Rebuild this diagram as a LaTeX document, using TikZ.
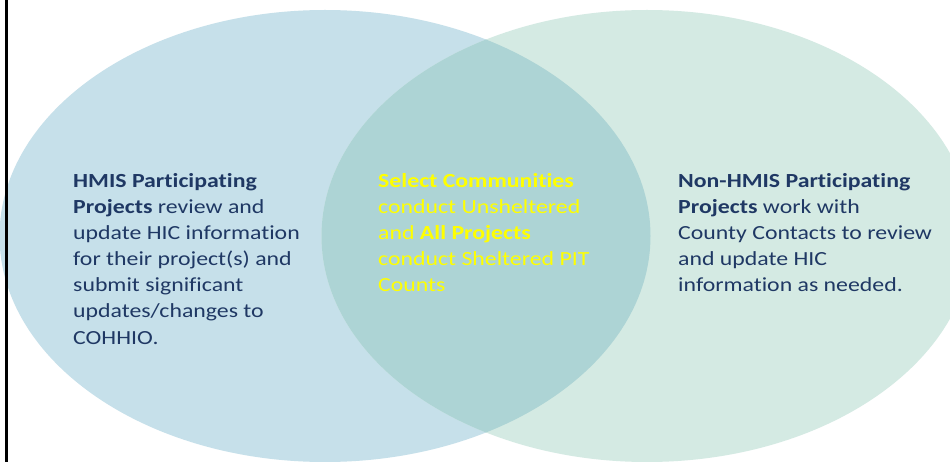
\documentclass[tikz,border=0pt]{standalone}
\usepackage{fontspec}
\setmainfont{Carlito}[FakeStretch=1.19, Ligatures=NoCommon]
\definecolor{lblue}{HTML}{C6E0EA}
\definecolor{lgreen}{HTML}{D4EAE3}
\definecolor{overlapc}{HTML}{ADD4D5}
\definecolor{navy}{HTML}{1F3864}
\definecolor{yel}{HTML}{FFFF00}
\tikzset{
  txt/.style={anchor=base west, inner sep=0pt, font=\fontsize{20}{26.1}\selectfont},
}
\begin{document}
\begin{tikzpicture}[x=1pt,y=-1pt]
\useasboundingbox (0,0) rectangle (950,462);
\begin{scope}
  \clip (0,0) rectangle (950,462);
  \fill[white] (0,0) rectangle (950,462);
  \fill[lblue] (325,236) ellipse [x radius=325.5pt, y radius=226pt];
  \fill[lgreen] (647,236) ellipse [x radius=325.5pt, y radius=226pt];
  \begin{scope}
    \clip (325,236) ellipse [x radius=325.5pt, y radius=226pt];
    \fill[overlapc] (647,236) ellipse [x radius=325.5pt, y radius=226pt];
  \end{scope}
  \fill[black] (5,0) rectangle (8,462);
\end{scope}
\node[txt, text=navy] (left) at (73,187.5) {\parbox[t]{300pt}{\raggedright
  \textbf{HMIS Participating}\\
  \textbf{Projects} review and\\
  update HIC information\\
  for their project(s) and\\
  submit significant\\
  updates/changes to\\
  COHHIO.}};
\node[txt, text=yel] (mid) at (378,187.5) {\parbox[t]{300pt}{\raggedright
  \textbf{Select Communities}\\
  conduct Unsheltered\\
  and \textbf{All Projects}\\
  conduct Sheltered PIT\\
  Counts}};
\node[txt, text=navy] (right) at (678,187.5) {\parbox[t]{300pt}{\raggedright
  \textbf{Non-HMIS Participating}\\
  \textbf{Projects} work with\\
  County Contacts to review\\
  and update HIC\\
  information as needed.}};
\end{tikzpicture}
\end{document}
